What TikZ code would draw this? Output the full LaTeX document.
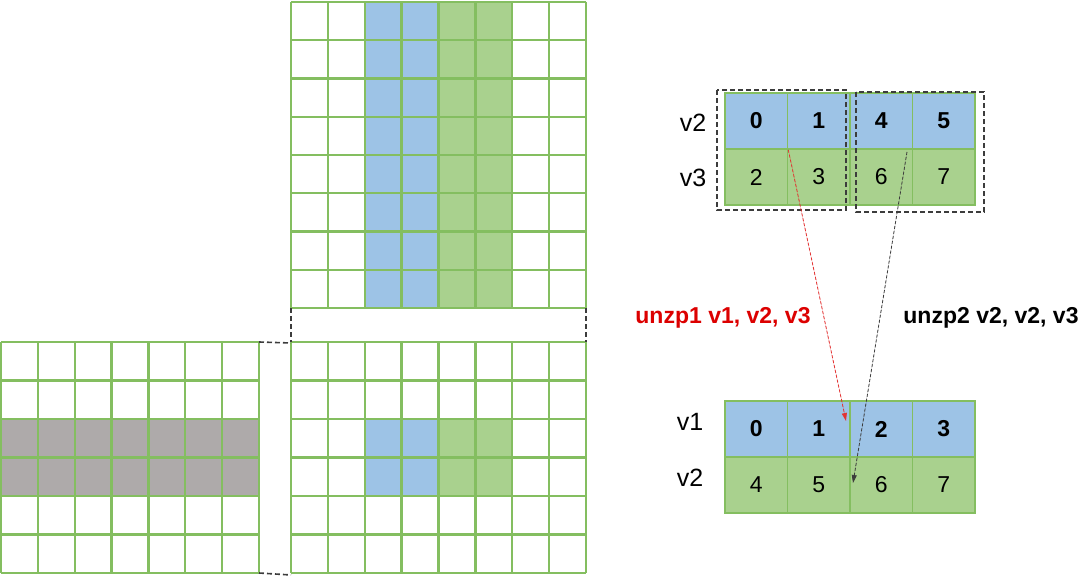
\documentclass[tikz,border=0pt]{standalone}
\usepackage{fontspec}
\setmainfont{Liberation Sans}
\usepackage{tikz}
\usetikzlibrary{arrows.meta}
\definecolor{RegBlue}{RGB}{157,195,230}
\definecolor{RegGreen}{RGB}{169,209,142}
\definecolor{GridGreen}{RGB}{132,190,96}
\definecolor{RowGray}{RGB}{174,170,170}
\definecolor{OpRed}{RGB}{220,0,0}
\definecolor{DashGray}{RGB}{60,60,60}

\begin{document}
\begin{tikzpicture}[x=1pt, y=-1pt,
    gridline/.style={draw=GridGreen, line width=2.3pt},
    cell/.style={rectangle, draw=GridGreen, line width=1.6pt,
                 minimum width=62.5pt, minimum height=56pt, inner sep=0pt,
                 font=\fontsize{23}{27}\selectfont},
    hicell/.style={cell, fill=RegBlue, font=\fontsize{23}{27}\selectfont\bfseries},
    locell/.style={cell, fill=RegGreen},
    reglabel/.style={font=\fontsize{25}{30}\selectfont},
    linkdash/.style={draw=DashGray, line width=1.6pt, dash pattern=on 5pt off 3pt},
    shuffle/.style={-{Triangle[length=8pt, width=5pt]}, line width=0.8pt,
                 dash pattern=on 3pt off 2pt},
    oplabel/.style={font=\fontsize{23}{28}\selectfont\bfseries}
  ]
  \useasboundingbox (0,0) rectangle (1080,578);

  % left matrix
  \fill[RowGray] (1,419) rectangle (259,496);
  \foreach \i in {0,...,7}
    \draw[gridline] ({1+\i*36.857},342) -- ({1+\i*36.857},573);
  \foreach \j in {0,...,6}
    \draw[gridline] (1,{342+\j*38.5}) -- (259,{342+\j*38.5});

  % top matrix
  \fill[RegBlue]  (364.75,2) rectangle (438.5,308);
  \fill[RegGreen] (438.5,2) rectangle (512.25,308);
  \foreach \i in {0,...,8}
    \draw[gridline] ({291+\i*36.875},2) -- ({291+\i*36.875},308);
  \foreach \j in {0,...,8}
    \draw[gridline] (291,{2+\j*38.25}) -- (586,{2+\j*38.25});

  % result matrix
  \fill[RegBlue]  (364.75,419) rectangle (438.5,496);
  \fill[RegGreen] (438.5,419) rectangle (512.25,496);
  \foreach \i in {0,...,8}
    \draw[gridline] ({291+\i*36.875},342) -- ({291+\i*36.875},573);
  \foreach \j in {0,...,6}
    \draw[gridline] (291,{342+\j*38.5}) -- (586,{342+\j*38.5});

  \draw[linkdash] (259,342) -- (291,343);
  \draw[linkdash] (259,573) -- (291,575);
  \draw[linkdash] (291,308) -- (291,342);
  \draw[linkdash] (586,308) -- (586,342);

  % source registers
  \foreach \v/\k in {0/0, 1/1, 4/2, 5/3}
    \node[hicell] (a\v) at ({756.25+62.5*\k},121) {\v};
  \foreach \v/\k in {2/0, 3/1, 6/2, 7/3}
    \node[locell] (a\v) at ({756.25+62.5*\k},177) {\v};
  \node[reglabel] (src2) at (693,123) {v2};
  \node[reglabel] (src3) at (693,178) {v3};

  \draw[linkdash] (717,90) rectangle (846,210);
  \draw[linkdash] (856,92) rectangle (984,212);

  % destination registers
  \foreach \v/\k in {0/0, 1/1, 2/2, 3/3}
    \node[hicell] (b\v) at ({756.25+62.5*\k},429) {\v};
  \foreach \v/\k in {4/0, 5/1, 6/2, 7/3}
    \node[locell] (b\v) at ({756.25+62.5*\k},485) {\v};
  \node[reglabel] (dst1) at (690,422) {v1};
  \node[reglabel] (dst2) at (690,478) {v2};

  \coordinate (even) at (846,421);
  \coordinate (oddsrc) at (907,152);
  \coordinate (odd) at (853,483);
  \draw[shuffle, draw=OpRed!80, fill=OpRed] (a0.south east) -- (even);
  \draw[shuffle, draw=DashGray, fill=DashGray] (oddsrc) -- (odd);

  \node[oplabel, text=OpRed] (op1) at (723,318) {unzp1 v1, v2, v3};
  \node[oplabel] (op2) at (991,318) {unzp2 v2, v2, v3};
\end{tikzpicture}
\end{document}
